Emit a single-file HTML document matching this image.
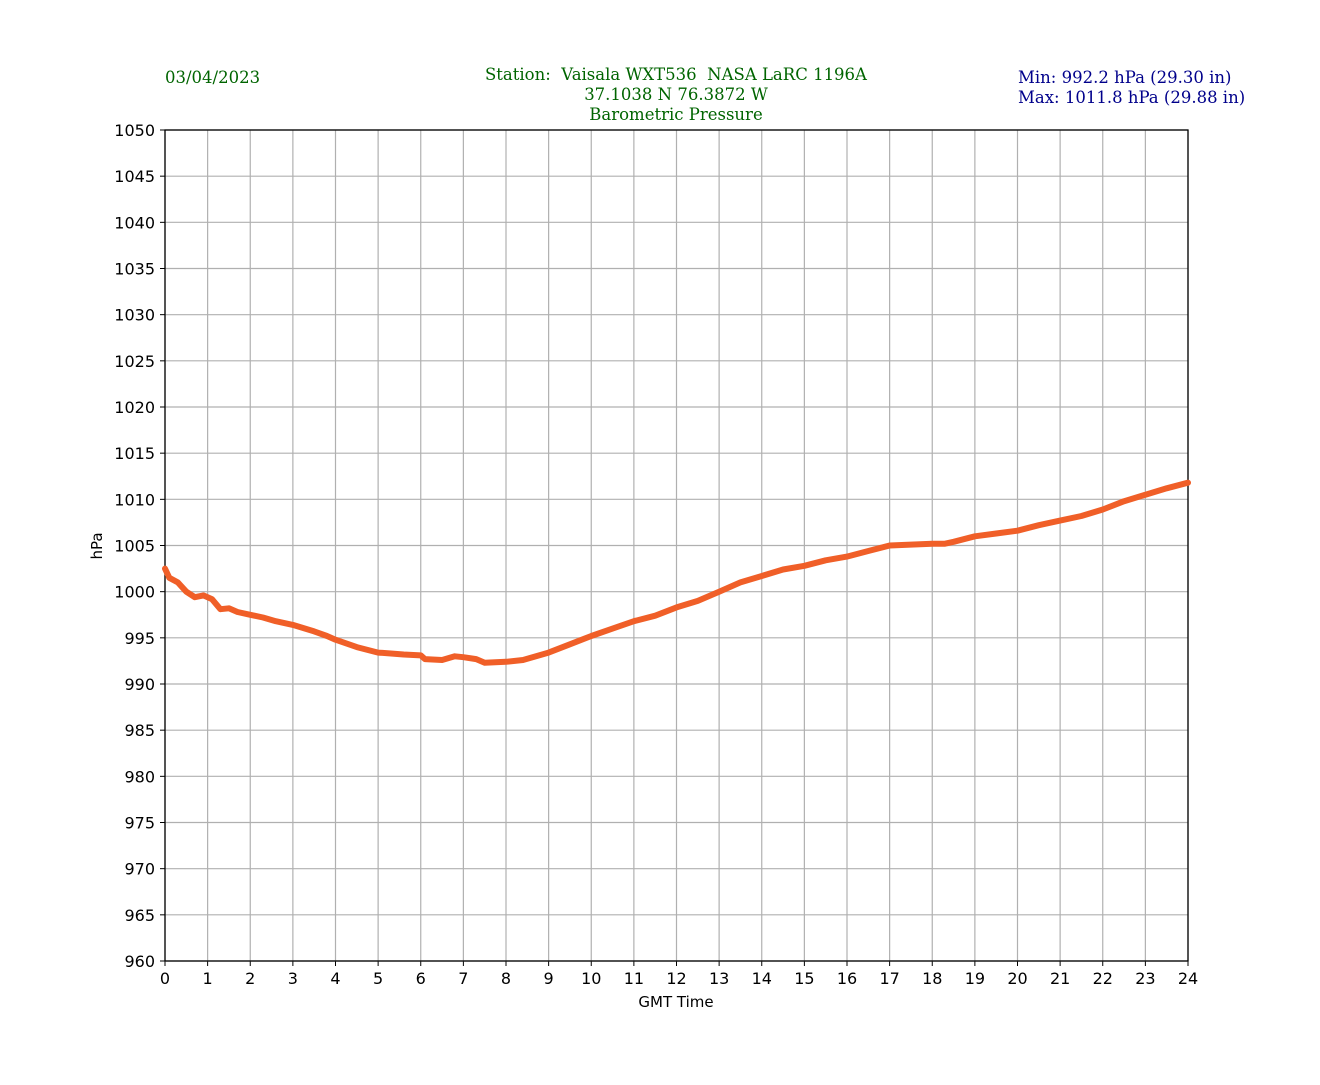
<!DOCTYPE html>
<html><head><meta charset="utf-8"><style>
body{margin:0;background:#fff;}
svg text{font-family:"DejaVu Sans","Liberation Sans",sans-serif;}
.h{font-family:"DejaVu Serif","Liberation Serif",serif !important;font-size:16.5px;white-space:pre;}
</style></head><body>
<svg id="s" width="1320" height="1080" xmlns="http://www.w3.org/2000/svg" xml:space="preserve">
<rect width="1320" height="1080" fill="#fff"/>
<text class="h" x="165" y="83" fill="#006400">03/04/2023</text>
<text class="h" x="676" y="80" fill="#006400" text-anchor="middle">Station:  Vaisala WXT536  NASA LaRC 1196A</text>
<text class="h" x="676" y="100" fill="#006400" text-anchor="middle">37.1038 N 76.3872 W</text>
<text class="h" x="676" y="120" fill="#006400" text-anchor="middle">Barometric Pressure</text>
<text class="h" x="1018" y="83" fill="#00008b">Min: 992.2 hPa (29.30 in)</text>
<text class="h" x="1018" y="103" fill="#00008b">Max: 1011.8 hPa (29.88 in)</text>
<g id="g"></g>
<text x="676" y="1007" font-size="15" text-anchor="middle">GMT Time</text>
<text x="102" y="546" font-size="15" text-anchor="middle" transform="rotate(-90 102 546)">hPa</text>
</svg>
<script>
const X0=165,X1=1188,Y0=130,Y1=961;
const xs=h=>X0+h*(X1-X0)/24, ys=v=>Y0+(1050-v)*(Y1-Y0)/90;
let s='';
for(let h=0;h<=24;h++){const x=xs(h);
 s+=`<line x1="${x}" y1="${Y0}" x2="${x}" y2="${Y1}" stroke="#b0b0b0" stroke-width="1.2"/>`;
 s+=`<line x1="${x}" y1="${Y1}" x2="${x}" y2="${Y1+5}" stroke="#000"/>`;
 s+=`<text x="${x}" y="${Y1+23}" font-size="16" text-anchor="middle">${h}</text>`;}
for(let v=960;v<=1050;v+=5){const y=ys(v);
 s+=`<line x1="${X0}" y1="${y}" x2="${X1}" y2="${y}" stroke="#b0b0b0" stroke-width="1.2"/>`;
 s+=`<line x1="${X0-5}" y1="${y}" x2="${X0}" y2="${y}" stroke="#000"/>`;
 s+=`<text x="${X0-10}" y="${y+6}" font-size="16" text-anchor="end">${v}</text>`;}
s+=`<rect x="${X0}" y="${Y0}" width="${X1-X0}" height="${Y1-Y0}" fill="none" stroke="#000" stroke-width="1.3"/>`;
const d=[[0,1002.5],[0.1,1001.5],[0.3,1001],[0.5,1000],[0.7,999.4],[0.9,999.6],[1.1,999.2],[1.3,998.1],[1.5,998.2],[1.7,997.8],[2,997.5],[2.3,997.2],[2.6,996.8],[3,996.4],[3.5,995.7],[3.8,995.2],[4,994.8],[4.5,994.0],[5,993.4],[5.3,993.3],[5.6,993.2],[6,993.1],[6.1,992.7],[6.5,992.6],[6.8,993],[7,992.9],[7.3,992.7],[7.5,992.3],[8,992.4],[8.4,992.6],[9,993.4],[9.5,994.3],[10,995.2],[10.5,996],[11,996.8],[11.5,997.4],[12,998.3],[12.5,999],[13,1000],[13.5,1001],[14,1001.7],[14.5,1002.4],[15,1002.8],[15.5,1003.4],[16,1003.8],[16.5,1004.4],[17,1005],[17.5,1005.1],[18,1005.2],[18.3,1005.2],[18.5,1005.4],[19,1006],[19.5,1006.3],[20,1006.6],[20.5,1007.2],[21,1007.7],[21.5,1008.2],[22,1008.9],[22.5,1009.8],[23,1010.5],[23.5,1011.2],[24,1011.8]];
s+=`<polyline fill="none" stroke="#f05f28" stroke-width="6" stroke-linejoin="round" stroke-linecap="round" points="${d.map(p=>xs(p[0]).toFixed(1)+','+ys(p[1]).toFixed(1)).join(' ')}"/>`;
document.getElementById('g').innerHTML=s;
</script>
</body></html>
